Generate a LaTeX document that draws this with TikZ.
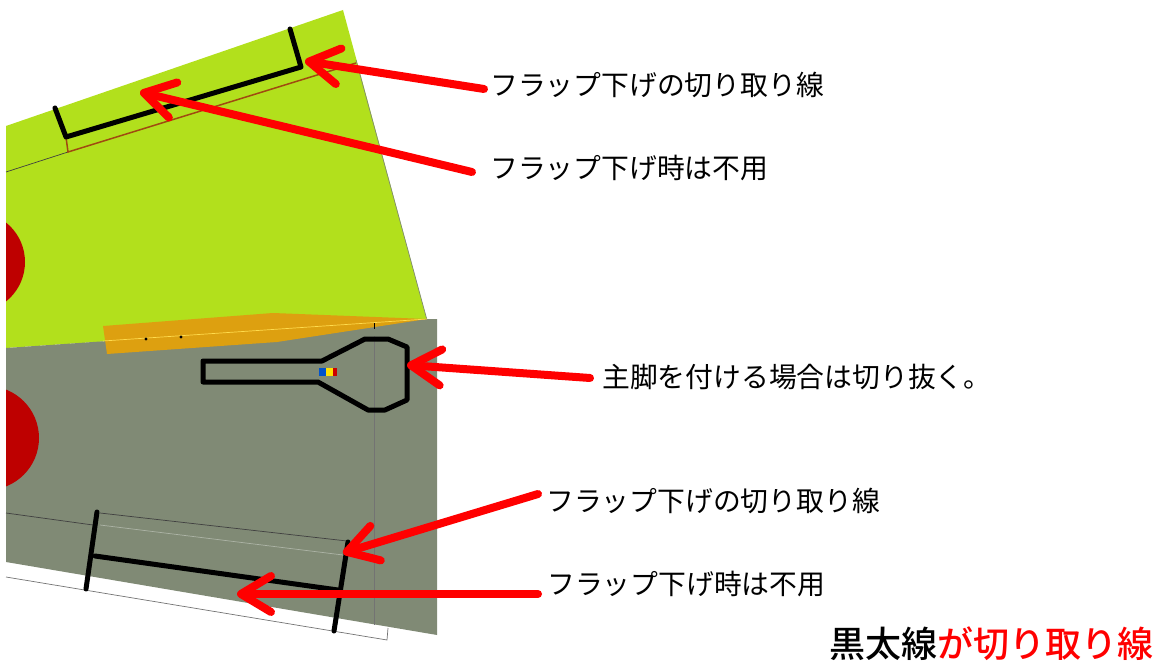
\documentclass[tikz,border=0pt]{standalone}
\usepackage{fontspec}
\setmainfont{Noto Sans CJK JP}
\newfontfamily\legendfont{Noto Sans CJK JP Medium}
\usetikzlibrary{arrows.meta}
\definecolor{wingGreen}{HTML}{B2E01C}
\definecolor{bodyGray}{HTML}{808A75}
\definecolor{discRed}{HTML}{BE0000}
\definecolor{flapOrange}{HTML}{DDA010}
\definecolor{cutBrown}{HTML}{A04A10}
\tikzset{
  cutline/.style={line width=5pt, line cap=round, line join=round},
  thinline/.style={line width=0.7pt, black!75},
  note/.style={inner sep=0pt, anchor=west, font=\fontsize{27.8pt}{30pt}\selectfont},
  pointer/.style={red, line width=8pt, line cap=round, -{Straight Barb[length=30pt, width=36pt, round]}},
}
\begin{document}
\begin{tikzpicture}[x=1pt, y=-1pt]
  \useasboundingbox (0,0) rectangle (1165,663);
  \fill[wingGreen] (6,126) -- (343,10) -- (427,320) -- (6,348) -- cycle; % 上の翼
  \draw[line width=0.7pt, bodyGray] (356,60) -- (427,320); % 翼の右端
  \draw[line width=0.7pt, black!55] (6,577) -- (387,640) -- (388,628); % 下の白い帯
  \fill[bodyGray] (6,348) -- (427,319) -- (437,319) -- (437,635) -- (6,562) -- cycle; % 下の翼
  \begin{scope}
    \clip (6,0) rectangle (437,663);
    \fill[discRed] (-25.5,262) circle (50.5); % 上の丸
    \fill[discRed] (-13,438) circle (52); % 下の丸
  \end{scope}
  \fill[flapOrange] (103,326) -- (273,313) -- (427,319) -- (277,342) -- (107,354) -- cycle; % 橙の部分
  \draw[line width=0.7pt, orange!40!yellow!70!white] (103,341) -- (427,319);
  \fill[black] (146,339) circle (1.6pt); % 点
  \fill[black] (181,337) circle (1.6pt); % 点
  \draw[line width=0.7pt, black] (374,323) -- (374,329);
  \draw[line width=0.5pt, black!55] (374,336) -- (374,625); % 縦の細線
  \fill[blue!60!cyan!80!black] (319,367.5) rectangle (326,376); % 小さな旗
  \fill[yellow!85!orange] (326,367.5) rectangle (333,376);
  \fill[red!80!black] (333,367.5) rectangle (337,376);
  \draw[cutline] (203,361) -- (322,361) -- (365,339) -- (388,339) -- (407,347) -- (407,400) -- (385,410) -- (368,410) -- (318,382) -- (203,382) -- cycle; % 主脚の穴
  \draw[thinline] (6,172) -- (68,152); % 上の細線
  \draw[line width=1.5pt, cutBrown] (66,137) -- (68,152) -- (356,63); % 茶色の線
  \draw[cutline] (55,108) -- (66,137) -- (301,67) -- (290,29); % 上の切り取り線
  \draw[thinline] (6,513) -- (93,525); % 下の細線
  \draw[thinline] (100,513) -- (347,541);
  \draw[line width=0.7pt, bodyGray!65!white] (100,525) -- (343,555);
  \draw[cutline] (97,512) -- (86,589); % 下の切り取り線
  \draw[cutline] (348,542) -- (334,631);
  \draw[cutline] (95,556) -- (338,590);
  \node[note] (flapcut) at (490,85) {フラップ下げの切り取り線};
  \node[note] (flapfree) at (490,168) {フラップ下げ時は不用};
  \node[note] (gearcut) at (602,377) {主脚を付ける場合は切り抜く。};
  \node[note] (flapcutb) at (546,501) {フラップ下げの切り取り線};
  \node[note] (flapfreeb) at (547,584) {フラップ下げ時は不用};
  \node[note, font=\fontsize{36pt}{38pt}\legendfont] (legend) at (829,644) {黒太線\textcolor{red}{が切り取り線}};
  \coordinate (tipcut) at (305,61);
  \coordinate (tipfree) at (140,92);
  \coordinate (tipgear) at (407,365);
  \coordinate (tipcutb) at (343,553);
  \coordinate (tipfreeb) at (237,594);
  \draw[pointer] ([shift={(-6pt,-4pt)}]flapcut.west) -- (tipcut);
  \draw[pointer] ([shift={(-18pt,-4pt)}]flapfree.west) -- (tipfree);
  \draw[pointer] ([shift={(-12pt,-1pt)}]gearcut.west) -- (tipgear);
  \draw[pointer] ([shift={(-8pt,7pt)}]flapcutb.west) -- (tipcutb);
  \draw[pointer] ([shift={(-9pt,-10pt)}]flapfreeb.west) -- (tipfreeb);
\end{tikzpicture}
\end{document}
